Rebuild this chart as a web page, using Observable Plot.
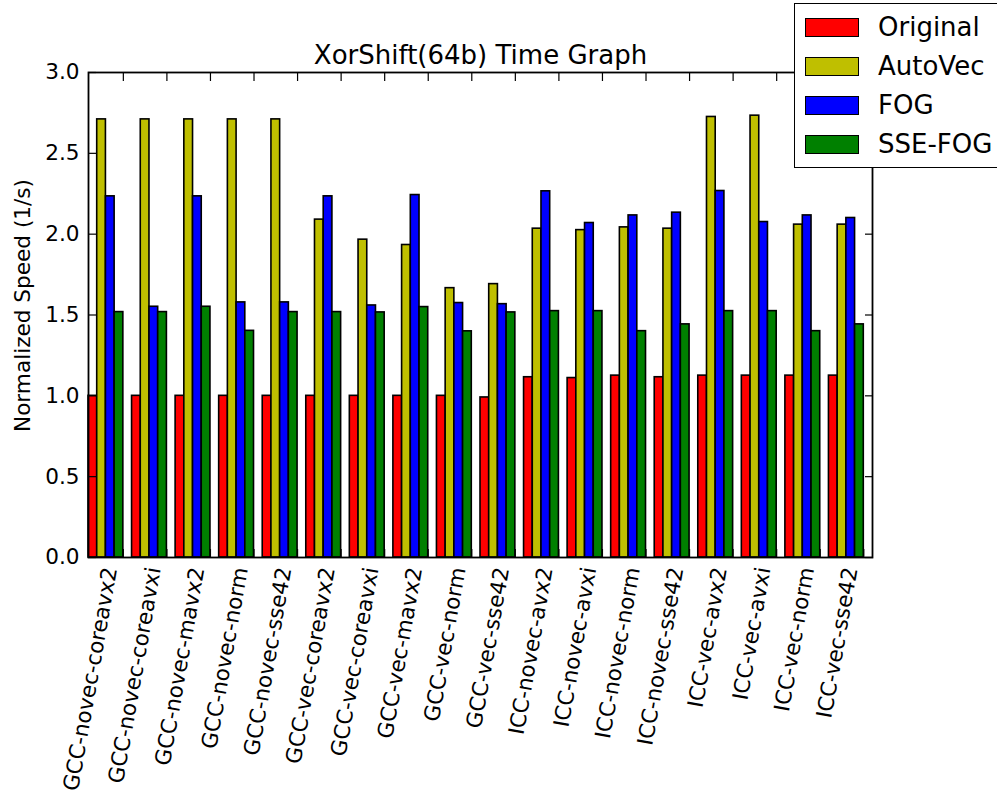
<!DOCTYPE html>
<html><head><meta charset="utf-8">
<script src="https://cdn.jsdelivr.net/npm/d3@7"></script>
<script src="https://cdn.jsdelivr.net/npm/@observablehq/plot@0.6"></script>
<style>
html,body{margin:0;padding:0;background:#fff;overflow:hidden;}
#wrap{position:relative;width:997px;height:797px;overflow:hidden;font-family:"DejaVu Sans",sans-serif;}
#legend{position:absolute;left:794px;top:3px;width:240px;height:165px;border:1.8px solid #000;background:#fff;box-sizing:border-box;}
.row{position:absolute;left:10px;height:19px;display:flex;align-items:center;}
.patch{width:54px;height:19px;border:1.6px solid #000;box-sizing:border-box;}
.lab{margin-left:19px;font-size:26px;line-height:19px;color:#000;white-space:nowrap;}
</style>
</head><body>
<div id="wrap"><div id="chart"></div><div id="legend"></div></div>
<script>
const categories = ["GCC-novec-coreavx2","GCC-novec-coreavxi","GCC-novec-mavx2","GCC-novec-norm","GCC-novec-sse42","GCC-vec-coreavx2","GCC-vec-coreavxi","GCC-vec-mavx2","GCC-vec-norm","GCC-vec-sse42","ICC-novec-avx2","ICC-novec-avxi","ICC-novec-norm","ICC-novec-sse42","ICC-vec-avx2","ICC-vec-avxi","ICC-vec-norm","ICC-vec-sse42"];
const seriesNames = ["Original","AutoVec","FOG","SSE-FOG"];
const seriesColors = ["#ff0000","#bfbf00","#0000ff","#008000"];
const original = [1.0,1.0,1.0,1.0,1.0,1.0,1.0,1.0,1.0,0.99,1.115,1.11,1.125,1.115,1.125,1.125,1.125,1.125];
const autovec  = [2.71,2.71,2.71,2.71,2.71,2.09,1.966,1.933,1.666,1.691,2.034,2.025,2.042,2.034,2.725,2.733,2.059,2.059];
const fog      = [2.234,1.551,2.234,1.578,1.578,2.234,1.559,2.242,1.574,1.567,2.265,2.069,2.116,2.133,2.267,2.075,2.116,2.10];
const ssefog   = [1.518,1.518,1.551,1.402,1.518,1.518,1.516,1.549,1.399,1.516,1.524,1.524,1.40,1.442,1.524,1.524,1.40,1.442];
const yTicks = [0,0.5,1.0,1.5,2.0,2.5,3.0];
const titleText = "XorShift(64b) Time Graph";
const yLabel = "Normalized Speed (1/s)";

const seriesValues = [original, autovec, fog, ssefog];
const barWidth = 0.2;
const rows = [];
categories.forEach((c, i) => seriesValues.forEach((vals, k) => rows.push({
  cat: c, series: seriesNames[k], x1: i + k * barWidth, x2: i + (k + 1) * barWidth, value: vals[i]
})));
const tickPos = categories.map((c, i) => i + 4 * barWidth);

const chart = Plot.plot({
  width: 997, height: 797,
  marginLeft: 88, marginRight: 125, marginTop: 72, marginBottom: 240,
  style: {fontFamily: "DejaVu Sans", background: "transparent", color: "#000"},
  x: {domain: [0, categories.length], axis: null},
  y: {domain: [0, 3], axis: null},
  color: {domain: seriesNames, range: seriesColors},
  marks: [
    Plot.rectY(rows, {x1: "x1", x2: "x2", y1: 0, y2: "value", fill: "series", stroke: "#000", strokeWidth: 1.6}),
    Plot.axisY(yTicks, {anchor: "left", tickSize: -8, fill: "none", label: null, strokeWidth: 1.2}),
    Plot.axisY(yTicks, {anchor: "right", tickSize: -8, fill: "none", label: null, strokeWidth: 1.2}),
    Plot.axisX(tickPos, {anchor: "top", tickSize: -8, fill: "none", label: null, strokeWidth: 1.2}),
    Plot.axisX(tickPos, {anchor: "bottom", tickSize: -8, fill: "none", label: null, strokeWidth: 1.2}),
    Plot.axisY(yTicks, {anchor: "left", tickSize: 0, tickPadding: 9, tickFormat: d3.format(".1f"), fontSize: 21.6, fill: "#000", label: null}),
    Plot.text(tickPos, {x: d => d, text: (d, i) => categories[i], frameAnchor: "bottom", rotate: -80, textAnchor: "end", lineAnchor: "middle", dx: -13, dy: 10, fontSize: 21.6, fill: "#000"}),
    Plot.text([yLabel], {frameAnchor: "left", textAnchor: "middle", lineAnchor: "middle", rotate: -90, dx: -65, dy: -9.5, fontSize: 21.6, fill: "#000"}),
    Plot.text([titleText], {frameAnchor: "top", textAnchor: "middle", lineAnchor: "bottom", dy: -9, fontSize: 26, fill: "#000"}),
    Plot.frame({stroke: "#000", strokeWidth: 1.8})
  ]
});
document.getElementById("chart").appendChild(chart);

const legend = document.getElementById("legend");
seriesNames.forEach((name, k) => {
  const row = document.createElement("div");
  row.className = "row";
  row.style.top = (14 + k * 39) + "px";
  const p = document.createElement("div");
  p.className = "patch";
  p.style.background = seriesColors[k];
  const t = document.createElement("span");
  t.className = "lab";
  t.textContent = name;
  row.appendChild(p); row.appendChild(t);
  legend.appendChild(row);
});
</script>
</body></html>
